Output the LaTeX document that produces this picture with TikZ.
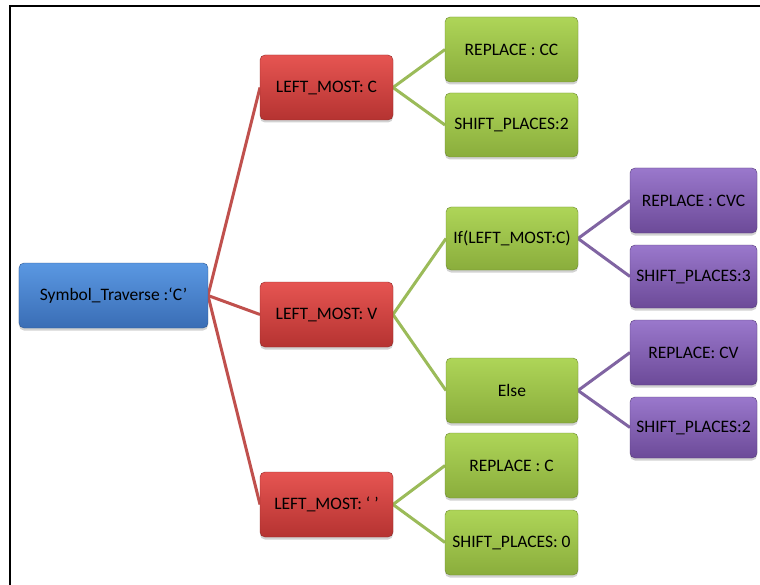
\documentclass[tikz,border=0pt]{standalone}
\usepackage{fontspec}
\setmainfont{Carlito}
\usetikzlibrary{shadows}

\definecolor{bluetop}{HTML}{5A98E2}
\definecolor{bluebot}{HTML}{3A6DB5}
\definecolor{redtop}{HTML}{E65552}
\definecolor{redbot}{HTML}{B53331}
\definecolor{greentop}{HTML}{AED558}
\definecolor{greenbot}{HTML}{8AAD3C}
\definecolor{purptop}{HTML}{9A78CC}
\definecolor{purpbot}{HTML}{6C4A98}
\definecolor{redline}{HTML}{C0504D}
\definecolor{greenline}{HTML}{9BBB59}
\definecolor{purpline}{HTML}{8064A2}

\tikzset{
  box/.style={rectangle, rounded corners=5bp, inner sep=0pt,
    font=\fontsize{17.5bp}{20bp}\selectfont, text=black,
    drop shadow={opacity=0.35, shadow xshift=0bp, shadow yshift=-2.5bp}},
  bluebox/.style={box, top color=bluetop, bottom color=bluebot, draw=bluebot!80!black, line width=0.4bp},
  redbox/.style={box, top color=redtop, bottom color=redbot, draw=redbot!80!black, line width=0.4bp},
  greenbox/.style={box, top color=greentop, bottom color=greenbot, draw=greenbot!80!black, line width=0.4bp},
  purpbox/.style={box, top color=purptop, bottom color=purpbot, draw=purpbot!80!black, line width=0.4bp},
  redlink/.style={draw=redline, line width=3bp},
  greenlink/.style={draw=greenline, line width=3bp},
  purplink/.style={draw=purpline, line width=3bp},
}

\begin{document}
\begin{tikzpicture}[x=1bp,y=1bp]
\useasboundingbox (0,0) rectangle (760,-585);
\fill[white] (0,0) rectangle (760,-585);

% frame
\draw[line width=2.2bp] (10,-585) -- (10,-6) -- (760,-6);

% connectors
\coordinate (rootE) at (208,-295.5);
\coordinate (lcW) at (260,-87.5);
\coordinate (lvW) at (260,-314.5);
\coordinate (lsW) at (260,-504.5);
\draw[redlink] (rootE) -- (lcW);
\draw[redlink] (rootE) -- (lvW);
\draw[redlink] (rootE) -- (lsW);

\coordinate (lcE) at (393,-87.5);
\coordinate (lvE) at (393,-314.5);
\coordinate (lsE) at (393,-504.5);
\coordinate (g1W) at (445,-49.5);
\coordinate (g2W) at (445,-125);
\coordinate (g3W) at (446,-238.5);
\coordinate (g4W) at (446,-390.5);
\coordinate (g5W) at (445,-465.5);
\coordinate (g6W) at (445,-542.5);
\draw[greenlink] (lcE) -- (g1W);
\draw[greenlink] (lcE) -- (g2W);
\draw[greenlink] (lvE) -- (g3W);
\draw[greenlink] (lvE) -- (g4W);
\draw[greenlink] (lsE) -- (g5W);
\draw[greenlink] (lsE) -- (g6W);

\coordinate (g3E) at (578,-238.5);
\coordinate (g4E) at (578,-390.5);
\coordinate (p1W) at (630,-200.5);
\coordinate (p2W) at (630,-276.5);
\coordinate (p3W) at (630,-352.5);
\coordinate (p4W) at (630,-427.5);
\draw[purplink] (g3E) -- (p1W);
\draw[purplink] (g3E) -- (p2W);
\draw[purplink] (g4E) -- (p3W);
\draw[purplink] (g4E) -- (p4W);

% nodes
\node[bluebox, minimum width=189bp, minimum height=65bp] (root) at (113.5,-295.5) {Symbol\_Traverse :‘C’};

\node[redbox, minimum width=133bp, minimum height=65bp] (lc) at (326.5,-87.5) {LEFT\_MOST: C};
\node[redbox, minimum width=133bp, minimum height=65bp] (lv) at (326.5,-314.5) {LEFT\_MOST: V};
\node[redbox, minimum width=133bp, minimum height=65bp] (ls) at (326.5,-504.5) {LEFT\_MOST: ‘ ’};

\node[greenbox, minimum width=133bp, minimum height=65bp] (g1) at (511.5,-49.5) {REPLACE : CC};
\node[greenbox, minimum width=133bp, minimum height=64bp] (g2) at (511.5,-125) {SHIFT\_PLACES:2};
\node[greenbox, minimum width=132bp, minimum height=63bp] (g3) at (512,-238.5) {If(LEFT\_MOST:C)};
\node[greenbox, minimum width=132bp, minimum height=65bp] (g4) at (512,-390.5) {Else};
\node[greenbox, minimum width=133bp, minimum height=65bp] (g5) at (511.5,-465.5) {REPLACE : C};
\node[greenbox, minimum width=133bp, minimum height=65bp] (g6) at (511.5,-542.5) {SHIFT\_PLACES: 0};

\node[purpbox, minimum width=127bp, minimum height=65bp] (p1) at (693.5,-200.5) {REPLACE : CVC};
\node[purpbox, minimum width=127bp, minimum height=63bp] (p2) at (693.5,-276.5) {SHIFT\_PLACES:3};
\node[purpbox, minimum width=127bp, minimum height=65bp] (p3) at (693.5,-352.5) {REPLACE: CV};
\node[purpbox, minimum width=127bp, minimum height=61bp] (p4) at (693.5,-427.5) {SHIFT\_PLACES:2};
\end{tikzpicture}
\end{document}
